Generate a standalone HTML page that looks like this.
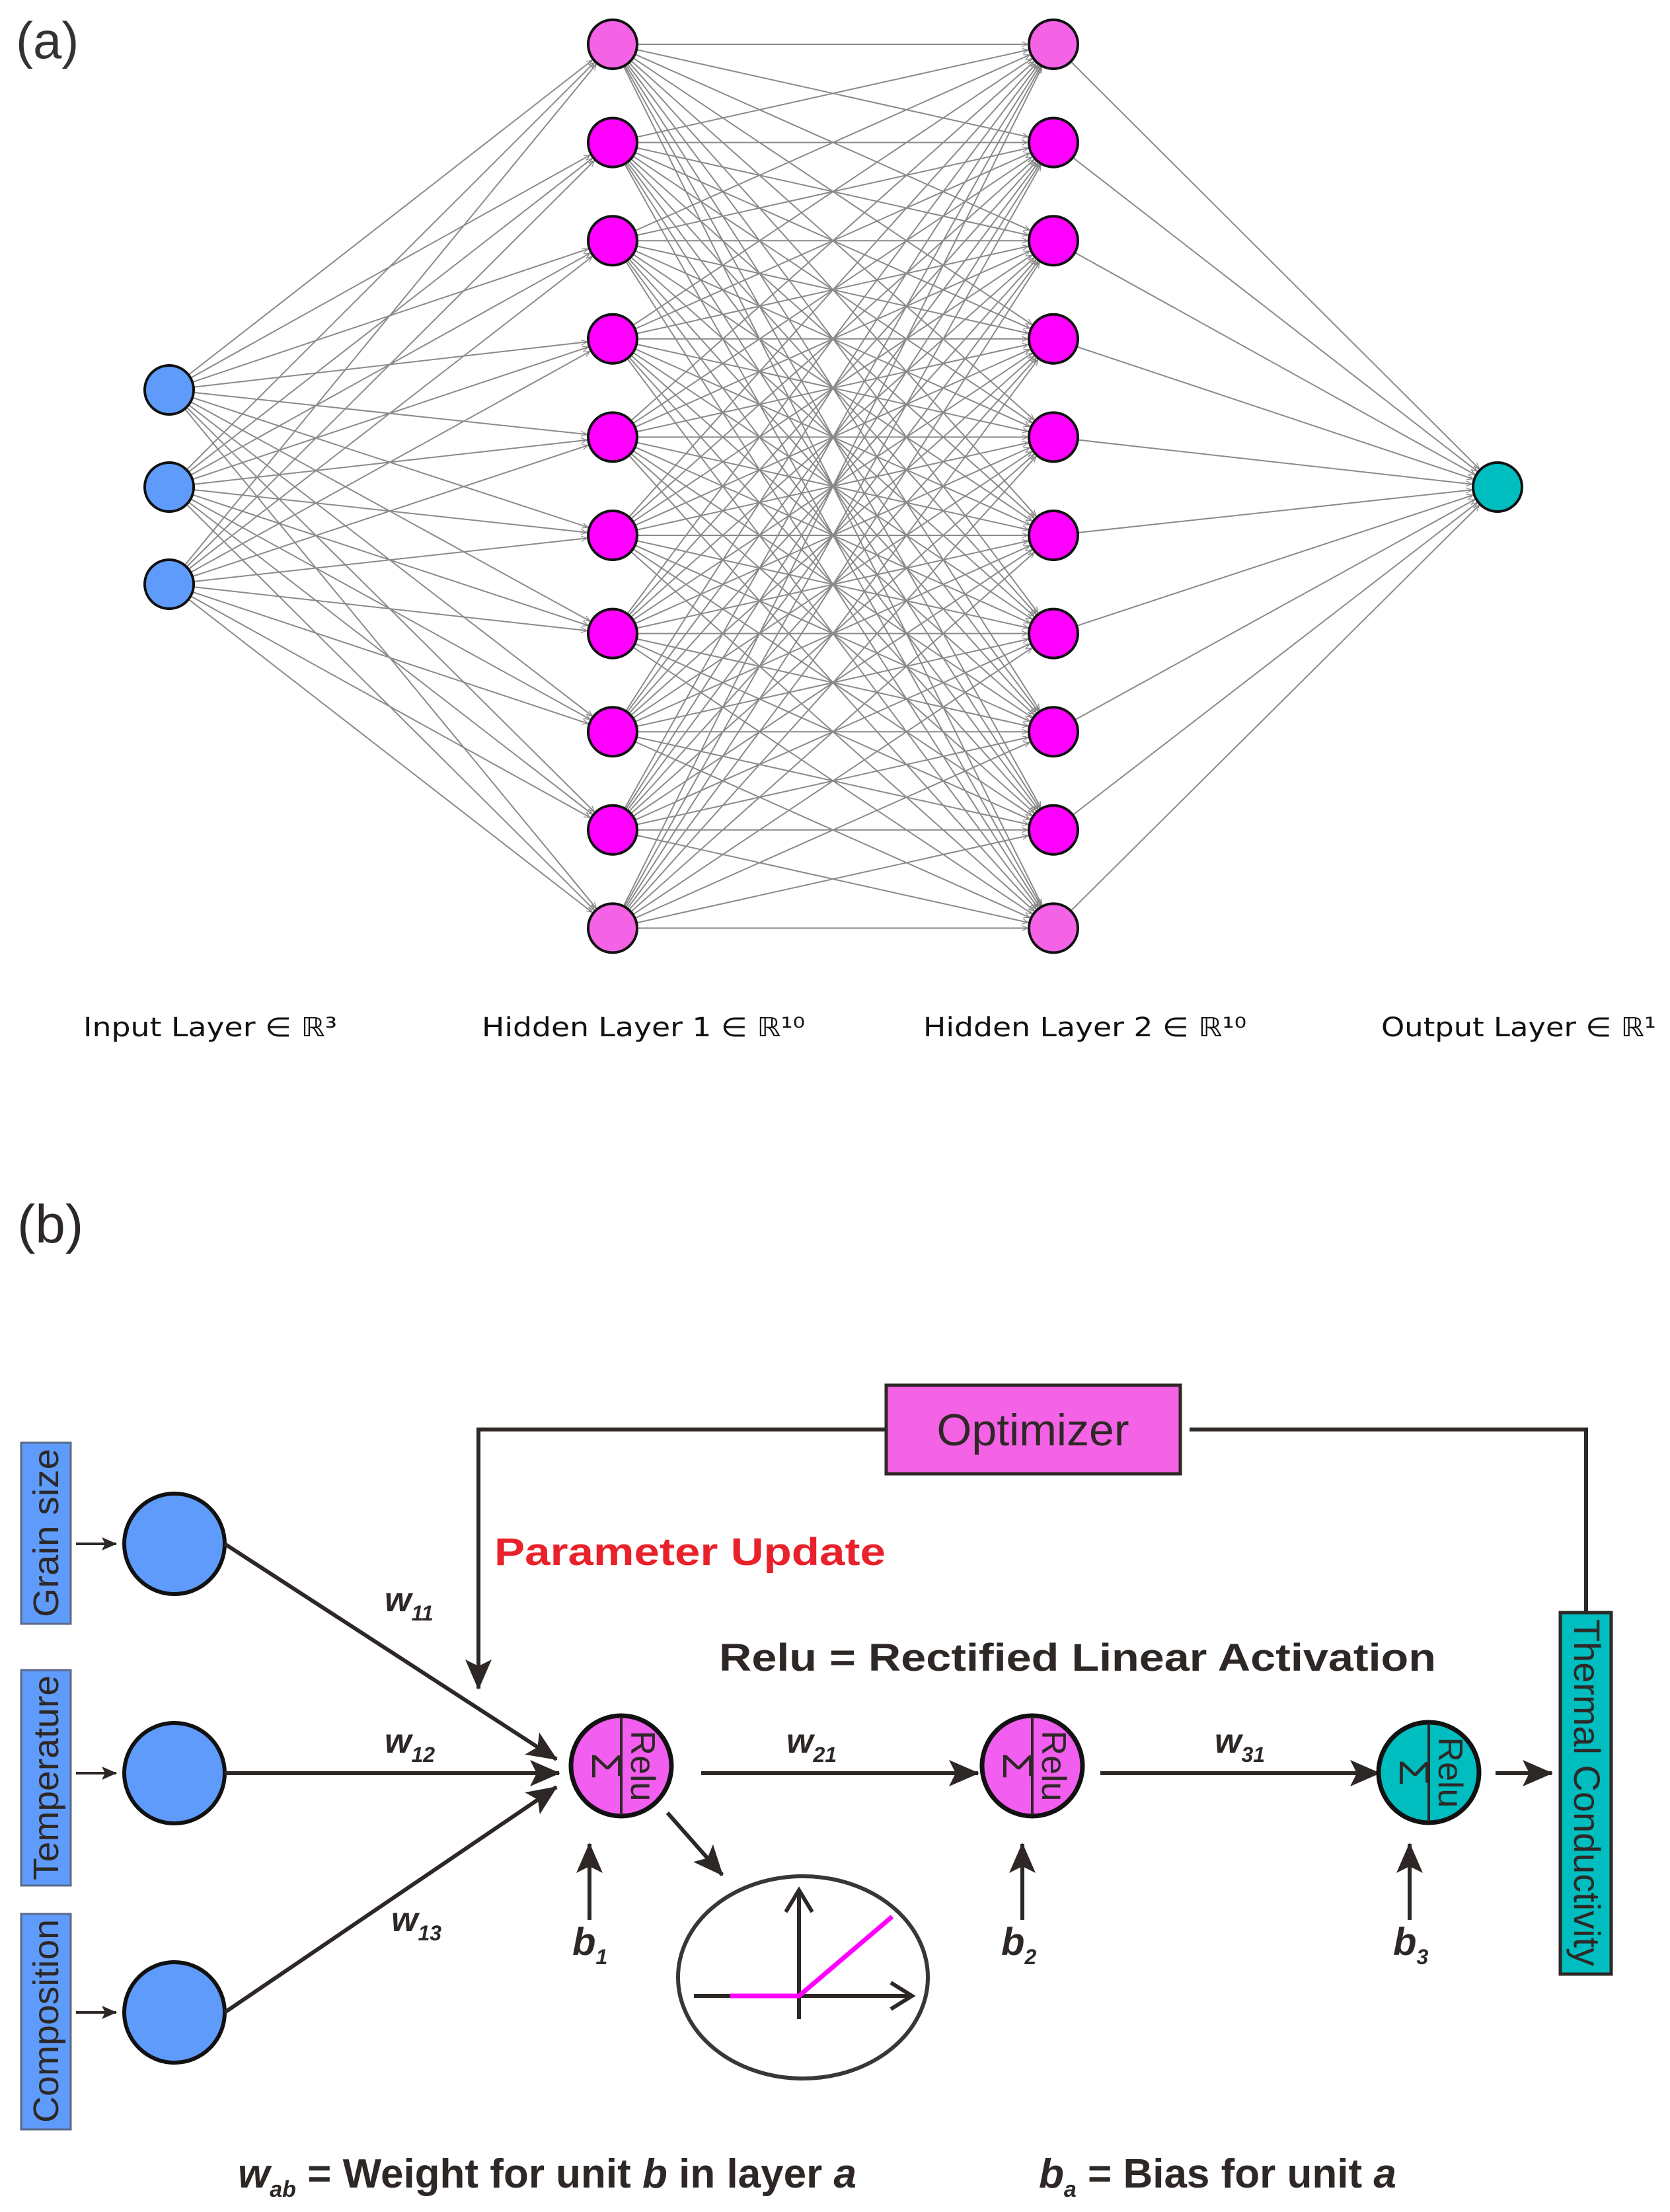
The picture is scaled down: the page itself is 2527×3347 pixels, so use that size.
<!DOCTYPE html>
<html><head><meta charset="utf-8"><style>
html,body{margin:0;padding:0;background:#fff;}
svg{display:block;}
</style></head><body>
<svg id="s" xmlns="http://www.w3.org/2000/svg" width="2527" height="3347" viewBox="0 0 2527 3347">
<defs>
<marker id="ga" markerWidth="10" markerHeight="10" refX="9" refY="5" orient="auto" markerUnits="userSpaceOnUse" viewBox="0 0 10 10">
<path d="M0,1 L9,5 L0,9" fill="none" stroke="#888" stroke-width="1.2"/></marker>
<marker id="ba" markerWidth="48" markerHeight="40" refX="44" refY="20" orient="auto" markerUnits="userSpaceOnUse" viewBox="0 0 48 40">
<path d="M0,0 L46,20 L0,40 L10,20 Z" fill="#2d2826"/></marker>
<marker id="sa" markerWidth="24" markerHeight="20" refX="22" refY="10" orient="auto" markerUnits="userSpaceOnUse" viewBox="0 0 24 20">
<path d="M0,0 L23,10 L0,20 L5,10 Z" fill="#2d2826"/></marker>
</defs>
<g id="edges" stroke="#8a8a8a" stroke-width="2" fill="none"></g>
<g id="nodes" stroke="#111" stroke-width="4"></g>
<g font-family="'DejaVu Sans', 'Liberation Sans', sans-serif" font-size="40" fill="#111">
<text x="24" y="88" font-family="'Liberation Sans',sans-serif" font-size="78" fill="#333">(a)</text>
<text x="126" y="1568" textLength="384" lengthAdjust="spacingAndGlyphs">Input Layer ∈ ℝ³</text>
<text x="729" y="1568" textLength="489" lengthAdjust="spacingAndGlyphs">Hidden Layer 1 ∈ ℝ¹⁰</text>
<text x="1397" y="1568" textLength="489" lengthAdjust="spacingAndGlyphs">Hidden Layer 2 ∈ ℝ¹⁰</text>
<text x="2090" y="1568" textLength="416" lengthAdjust="spacingAndGlyphs">Output Layer ∈ ℝ¹</text>
</g>
<g font-family="'Liberation Sans',sans-serif" fill="#2d2826" stroke="none">
<text x="26" y="1880" font-size="82">(b)</text>
</g>
<g stroke="#2d2826" stroke-width="6" fill="none">
<polyline points="1353,2163 724,2163 724,2555" marker-end="url(#ba)"/>
<polyline points="1800,2163 2400,2163 2400,2440"/>
</g>
<rect x="1341" y="2096" width="445" height="134" fill="#f462e6" stroke="#2d2826" stroke-width="5"/>
<text x="1563" y="2187" text-anchor="middle" font-family="'Liberation Sans',sans-serif" font-size="68" fill="#2d2826">Optimizer</text>
<rect x="2361" y="2440" width="77" height="547" fill="#00bdbf" stroke="#2d2826" stroke-width="5"/>
<text transform="translate(2382,2450) rotate(90)" font-family="'Liberation Sans',sans-serif" font-size="56" fill="#2d2826" textLength="525" lengthAdjust="spacingAndGlyphs">Thermal Conductivity</text>
<g fill="#5f9bfa" stroke="#5a6a8a" stroke-width="3">
<rect x="32" y="2183" width="75" height="274"/>
<rect x="32" y="2527" width="75" height="326"/>
<rect x="32" y="2896" width="75" height="326"/>
</g>
<g font-family="'Liberation Sans',sans-serif" font-size="54" fill="#2d2826">
<text transform="translate(88,2447) rotate(-90)" textLength="255" lengthAdjust="spacingAndGlyphs">Grain size</text>
<text transform="translate(88,2845) rotate(-90)" textLength="310" lengthAdjust="spacingAndGlyphs">Temperature</text>
<text transform="translate(88,3212) rotate(-90)" textLength="308" lengthAdjust="spacingAndGlyphs">Composition</text>
</g>
<g stroke="#2d2826" stroke-width="4">
<line x1="115" y1="2336" x2="176" y2="2336" marker-end="url(#sa)"/>
<line x1="115" y1="2683" x2="176" y2="2683" marker-end="url(#sa)"/>
<line x1="115" y1="3045" x2="176" y2="3045" marker-end="url(#sa)"/>
</g>
<g fill="#5f9bfa" stroke="#111" stroke-width="6">
<circle cx="264" cy="2336" r="76"/>
<circle cx="264" cy="2683" r="76"/>
<circle cx="264" cy="3045" r="76"/>
</g>
<g stroke="#2d2826" stroke-width="6" fill="none">
<line x1="340" y1="2336" x2="842" y2="2662" marker-end="url(#ba)"/>
<line x1="340" y1="2683" x2="846" y2="2683" marker-end="url(#ba)"/>
<line x1="340" y1="3045" x2="842" y2="2704" marker-end="url(#ba)"/>
<line x1="1061" y1="2683" x2="1480" y2="2683" marker-end="url(#ba)"/>
<line x1="1665" y1="2683" x2="2087" y2="2683" marker-end="url(#ba)"/>
<line x1="2263" y1="2683" x2="2348" y2="2683" marker-end="url(#ba)"/>
<line x1="1010" y1="2743" x2="1093" y2="2837" marker-end="url(#ba)"/>
<line x1="892" y1="2905" x2="892" y2="2790" marker-end="url(#ba)"/>
<line x1="1547" y1="2905" x2="1547" y2="2790" marker-end="url(#ba)"/>
<line x1="2133" y1="2905" x2="2133" y2="2790" marker-end="url(#ba)"/>
</g>
<g stroke="#111" stroke-width="7">
<circle cx="940" cy="2672" r="76" fill="#f25ef0"/>
<circle cx="1562" cy="2672" r="76" fill="#f25ef0"/>
<circle cx="2162" cy="2682" r="76" fill="#00bdbf"/>
</g>
<g stroke="#2d2826" stroke-width="4">
<line x1="940" y1="2598" x2="940" y2="2746"/>
<line x1="1562" y1="2598" x2="1562" y2="2746"/>
<line x1="2162" y1="2608" x2="2162" y2="2756"/>
</g>
<g font-family="'Liberation Sans',sans-serif" fill="#2d2826">
<text transform="translate(896,2672) rotate(90)" text-anchor="middle" font-size="64">Σ</text>
<text transform="translate(955,2672) rotate(90)" text-anchor="middle" font-size="52">Relu</text>
<text transform="translate(1518,2672) rotate(90)" text-anchor="middle" font-size="64">Σ</text>
<text transform="translate(1577,2672) rotate(90)" text-anchor="middle" font-size="52">Relu</text>
<text transform="translate(2118,2682) rotate(90)" text-anchor="middle" font-size="64">Σ</text>
<text transform="translate(2177,2682) rotate(90)" text-anchor="middle" font-size="52">Relu</text>
</g>
<ellipse cx="1215" cy="2992" rx="189" ry="153" fill="none" stroke="#3a3636" stroke-width="6"/>
<g stroke="#2d2826" stroke-width="6" fill="none">
<line x1="1050" y1="3020" x2="1378" y2="3020"/>
<polyline points="1348,3000 1380,3020 1348,3040"/>
<line x1="1209" y1="3055" x2="1209" y2="2860"/>
<polyline points="1189,2893 1209,2860 1229,2893"/>
</g>
<polyline points="1105,3020 1209,3020 1350,2900" fill="none" stroke="#ff00ff" stroke-width="7"/>
<g font-family="'Liberation Sans Narrow','Liberation Sans',sans-serif" font-weight="bold" fill="#2d2826">
<text x="748" y="2368" font-size="58" fill="#e8212b" textLength="592" lengthAdjust="spacingAndGlyphs">Parameter Update</text>
<text x="1088" y="2528" font-size="58" textLength="1085" lengthAdjust="spacingAndGlyphs">Relu = Rectified Linear Activation</text>
<g font-style="italic">
<text x="582" y="2438" font-size="52">w<tspan font-size="32" dy="14">11</tspan></text>
<text x="582" y="2652" font-size="52">w<tspan font-size="32" dy="14">12</tspan></text>
<text x="592" y="2922" font-size="52">w<tspan font-size="32" dy="14">13</tspan></text>
<text x="1190" y="2652" font-size="52">w<tspan font-size="32" dy="14">21</tspan></text>
<text x="1838" y="2652" font-size="52">w<tspan font-size="32" dy="14">31</tspan></text>
<text x="866" y="2958" font-size="58">b<tspan font-size="32" dy="14">1</tspan></text>
<text x="1515" y="2958" font-size="58">b<tspan font-size="32" dy="14">2</tspan></text>
<text x="2108" y="2958" font-size="58">b<tspan font-size="32" dy="14">3</tspan></text>
</g>
<text x="360" y="3310" font-size="62"><tspan font-style="italic">w</tspan><tspan font-style="italic" font-size="34" dy="14">ab</tspan><tspan dy="-14"> = Weight for unit </tspan><tspan font-style="italic">b</tspan><tspan> in layer </tspan><tspan font-style="italic">a</tspan></text>
<text x="1572" y="3310" font-size="62"><tspan font-style="italic">b</tspan><tspan font-style="italic" font-size="34" dy="14">a</tspan><tspan dy="-14"> = Bias for unit </tspan><tspan font-style="italic">a</tspan></text>
</g>
</svg>
<script>
(function(){
var NS="http://www.w3.org/2000/svg";
var r=37;
var L0=[],L1=[],L2=[],L3=[];
[590,737,884].forEach(function(y){L0.push([256,y]);});
for(var i=0;i<10;i++){var y=67+i*148.6;L1.push([927,y]);L2.push([1594,y]);}
L3.push([2266,737]);
var eg=document.getElementById('edges'),ng=document.getElementById('nodes');
function conn(A,B){A.forEach(function(a){B.forEach(function(b){
var dx=b[0]-a[0],dy=b[1]-a[1],d=Math.sqrt(dx*dx+dy*dy),ux=dx/d,uy=dy/d;
var l=document.createElementNS(NS,'line');
l.setAttribute('x1',a[0]+ux*r);l.setAttribute('y1',a[1]+uy*r);
l.setAttribute('x2',b[0]-ux*(r+2));l.setAttribute('y2',b[1]-uy*(r+2));
l.setAttribute('marker-end','url(#ga)');eg.appendChild(l);});});}
conn(L0,L1);conn(L1,L2);conn(L2,L3);
function circ(p,f){var c=document.createElementNS(NS,'circle');c.setAttribute('cx',p[0]);c.setAttribute('cy',p[1]);c.setAttribute('r',r);c.setAttribute('fill',f);ng.appendChild(c);}
L0.forEach(function(p){circ(p,'#5f9bfa');});
L1.forEach(function(p,i){circ(p,(i==0||i==9)?'#f462e6':'#ff00ff');});
L2.forEach(function(p,i){circ(p,(i==0||i==9)?'#f462e6':'#ff00ff');});
circ(L3[0],'#00bdbf');
})();
</script>
</body></html>
